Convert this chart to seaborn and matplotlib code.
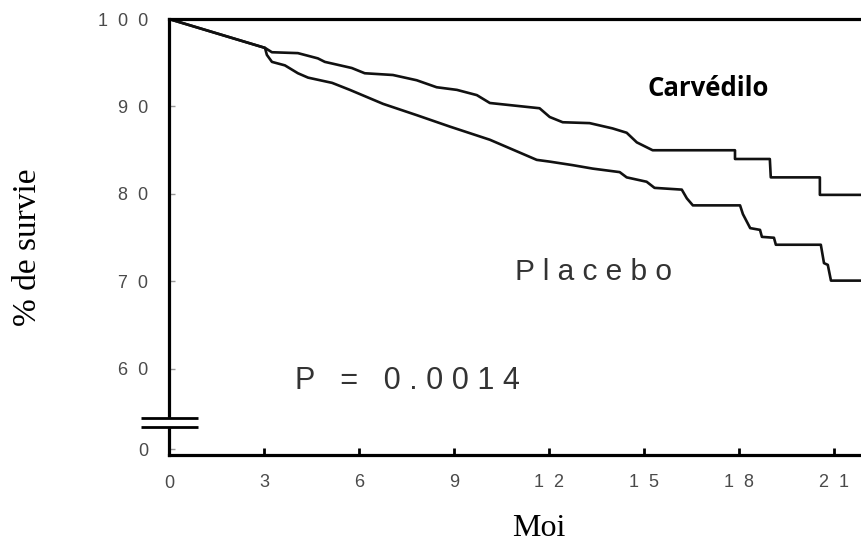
import matplotlib
matplotlib.use("Agg")
import matplotlib.pyplot as plt
import seaborn as sns
import pandas as pd

# Carvedilol curve (months, % survival)
carv_months = [0, 3.03, 3.25, 4.07, 4.70, 4.92, 5.77, 6.18, 7.07, 7.82, 8.45, 9.09, 9.72,
               10.13, 11.70, 12.02, 12.43, 13.28, 14.0, 14.45, 14.77, 15.27, 17.87, 17.87,
               18.97, 19.0, 20.55, 20.55, 21.9]
carv_surv = [100, 96.7, 96.2, 96.1, 95.5, 95.1, 94.4, 93.8, 93.6, 93.0, 92.2, 91.9, 91.3,
             90.4, 89.8, 88.8, 88.2, 88.1, 87.5, 87.0, 85.9, 85.0, 85.0, 84.0,
             84.0, 81.9, 81.9, 79.9, 79.9]

# Placebo curve
plac_months = [0, 3.03, 3.09, 3.25, 3.66, 4.07, 4.39, 5.15, 5.71, 6.76, 7.83, 8.87, 10.13,
               11.61, 12.02, 12.74, 13.38, 14.23, 14.45, 15.08, 15.33, 16.19, 16.35, 16.54,
               18.03, 18.12, 18.35, 18.66, 18.72, 19.1, 19.16, 20.58, 20.68, 20.8, 20.9, 21.9]
plac_surv = [100, 96.7, 95.9, 95.1, 94.7, 93.8, 93.3, 92.7, 91.9, 90.3, 89.0, 87.7, 86.2,
             83.9, 83.7, 83.3, 82.9, 82.5, 81.9, 81.4, 80.7, 80.5, 79.5, 78.7,
             78.7, 77.7, 76.1, 75.9, 75.1, 75.0, 74.2, 74.2, 72.1, 71.9, 70.1, 70.1]

x_ticks = [3, 6, 9, 12, 15, 18, 21]
x_ticklabels = ["3", "6", "9", "1  2", "1  5", "1  8", "2  1"]
y_ticks = [50.8, 60, 70, 80, 90, 100]
y_ticklabels = ["0", "6  0", "7  0", "8  0", "9  0", "1  0  0"]
break_low, break_high = 53.4, 54.4

sns.set_theme(style="white")
plt.rcParams["font.family"] = ["DejaVu Sans"]

df = pd.concat([
    pd.DataFrame({"Mois": carv_months, "Survie": carv_surv, "Groupe": "Carvédilol"}),
    pd.DataFrame({"Mois": plac_months, "Survie": plac_surv, "Groupe": "Placebo"}),
])

fig = plt.figure(figsize=(8.62, 5.44), dpi=100)
ax = fig.add_axes([169/862, 1-455/544, (862-169)/862, 436/544])

sns.lineplot(data=df, x="Mois", y="Survie", units="Groupe", estimator=None, sort=False,
             color="#111111", linewidth=1.9, legend=False, ax=ax)

ax.set_xlim(0, 21.88)
ax.set_ylim(50.17, 100)

for s in ["left", "bottom", "top"]:
    ax.spines[s].set_visible(True)
    ax.spines[s].set_color("black")
    ax.spines[s].set_linewidth(2.3)
ax.spines["right"].set_visible(False)

tick_font = dict(family=["Liberation Sans"])
ax.set_xticks(x_ticks)
ax.set_xticklabels(x_ticklabels, **tick_font)
ax.set_yticks(y_ticks)
ax.set_yticklabels(y_ticklabels, **tick_font)
ax.tick_params(axis="x", direction="in", length=5, width=2, color="black",
               labelsize=13, labelcolor="#4a4a4a", pad=14, bottom=True)
ax.tick_params(axis="y", direction="in", length=4, width=1, color="#999999",
               labelsize=13, labelcolor="#4a4a4a", pad=15, left=True)
ax.text(0, -0.066, "0", transform=ax.get_xaxis_transform(), ha="center", va="center",
        fontsize=13, color="#4a4a4a", family=["Liberation Sans"])

# axis break on the y axis
ax.fill_between([-0.2, 0.2], break_low, break_high, color="white", zorder=5, clip_on=False)
for yb in (break_low, break_high):
    ax.plot([-0.88, 0.92], [yb, yb], color="black", lw=2.0, clip_on=False, zorder=6,
            solid_capstyle="butt")

ax.set_xlabel("")
ax.set_ylabel("")

ax.text(17.02, 92.1, "Carvédilo", fontsize=18.5, fontweight="bold", family=["Open Sans"],
        ha="center", va="center", color="black")
ax.text(10.93, 71.1, "P l a c e b o", fontsize=21.5, color="#333333", ha="left", va="center",
        family=["Liberation Sans"])
ax.text(3.98, 58.6, "P   =   0 . 0 0 1 4", fontsize=22, color="#333333", ha="left", va="center",
        family=["Liberation Sans"])

fig.text(28/862, 1-247/544, "% de survie", rotation=90, fontsize=24, family=["Liberation Serif"],
         ha="center", va="center", color="black")
fig.text(539/862, 1-536/544, "Moi", fontsize=23, family=["Liberation Serif"],
         ha="center", va="baseline", color="black")

fig.savefig("out.png", dpi=100)
